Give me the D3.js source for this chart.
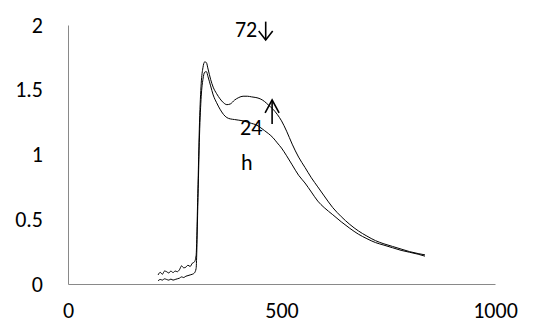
<!DOCTYPE html>
<html>
<head>
<meta charset="utf-8">
<script src="https://cdn.jsdelivr.net/npm/d3@7"></script>
<style>
  html, body { margin: 0; padding: 0; background: #fff; }
  svg text { font-family: Calibri, Carlito, "Open Sans", sans-serif; }
</style>
</head>
<body>
<div id="chart"></div>
<script>
// wavelength grid (nm) shared by both spectra
const wavelengths = [211, 216, 221, 226, 231, 236, 241, 246, 251, 256, 261, 266, 271, 276, 281, 286, 291, 296, 300,
  304, 308, 312, 316, 320, 324, 328, 334, 340, 348, 356, 364, 372, 380, 390, 400, 410, 420, 430, 440, 450,
  460, 470, 480, 490, 500, 512, 525, 540, 555, 570, 585, 600, 620, 640, 660, 680, 700, 720, 740, 760, 780,
  800, 820, 836];

const upperSeries = [0.07, 0.09, 0.075, 0.10, 0.095, 0.085, 0.10, 0.088, 0.10, 0.095, 0.11, 0.14, 0.125, 0.13, 0.145, 0.135, 0.16, 0.17, 0.22,
  0.7, 1.25, 1.55, 1.67, 1.715, 1.71, 1.66, 1.58, 1.52, 1.47, 1.43, 1.40, 1.385, 1.39, 1.42, 1.44, 1.45, 1.45, 1.445, 1.44, 1.43,
  1.41, 1.38, 1.35, 1.31, 1.26, 1.18, 1.08, 0.98, 0.90, 0.82, 0.75, 0.68, 0.59, 0.52, 0.46, 0.41, 0.37, 0.335, 0.31, 0.29, 0.27,
  0.25, 0.235, 0.225];

const lowerSeries = [0.025, 0.035, 0.03, 0.04, 0.035, 0.03, 0.038, 0.03, 0.035, 0.04, 0.045, 0.055, 0.05, 0.06, 0.065, 0.07, 0.075, 0.085, 0.12,
  0.6, 1.15, 1.45, 1.58, 1.635, 1.64, 1.6, 1.53, 1.46, 1.40, 1.35, 1.31, 1.285, 1.275, 1.27, 1.265, 1.26, 1.25, 1.24, 1.23, 1.21,
  1.185, 1.16, 1.13, 1.09, 1.05, 0.99, 0.92, 0.84, 0.78, 0.71, 0.64, 0.59, 0.535, 0.48, 0.43, 0.385, 0.35, 0.32, 0.30, 0.28, 0.26,
  0.245, 0.23, 0.215];

const xTicks = [0, 500, 1000];
const yTicks = [0, 0.5, 1, 1.5, 2];

// annotation texts, placed in data units
const labels = [
  { text: "72", x: 391, y: 1.907 },
  { text: "24", x: 403, y: 1.151 },
  { text: "h", x: 405, y: 0.88 }
];
const arrows = [
  { x: 463, y0: 2.026, y1: 1.884, dir: "down" },
  { x: 478, y0: 1.235, y1: 1.421, dir: "up" }
];

const width = 542, height = 331;
const plot = { left: 68, right: 495, top: 25, bottom: 284 };

const svg = d3.select("#chart").append("svg")
  .attr("width", width)
  .attr("height", height);

const x = d3.scaleLinear().domain([0, 1000]).range([plot.left, plot.right]);
const y = d3.scaleLinear().domain([0, 2]).range([plot.bottom, plot.top]);

// axes
const xAxis = svg.append("g")
  .attr("transform", `translate(0,${plot.bottom})`)
  .call(d3.axisBottom(x).tickValues(xTicks).tickSize(0).tickPadding(18).tickFormat(d3.format("d")));
xAxis.select(".domain").attr("stroke", "#898989");
xAxis.selectAll("text").attr("font-size", 22).attr("fill", "#000");

const yAxis = svg.append("g")
  .attr("transform", `translate(${plot.left},0)`)
  .call(d3.axisLeft(y).tickValues(yTicks).tickSize(0).tickPadding(25).tickFormat(d => String(d)));
yAxis.select(".domain").attr("stroke", "#898989");
yAxis.selectAll("text").attr("font-size", 22).attr("fill", "#000");

// spectra
const line = d3.line()
  .x(d => x(d[0]))
  .y(d => y(d[1]))
  .curve(d3.curveMonotoneX);

[upperSeries, lowerSeries].forEach(series => {
  svg.append("path")
    .datum(wavelengths.map((w, i) => [w, series[i]]))
    .attr("fill", "none")
    .attr("stroke", "#000")
    .attr("stroke-width", 1)
    .attr("d", line);
});

// annotations
svg.selectAll(".ann")
  .data(labels)
  .enter()
  .append("text")
  .attr("class", "ann")
  .attr("x", d => x(d.x))
  .attr("y", d => y(d.y))
  .attr("font-size", 22)
  .attr("fill", "#000")
  .text(d => d.text);

arrows.forEach(a => {
  const xs = x(a.x);
  const tip = y(a.y1);
  const back = a.dir === "down" ? -9 : 13;
  svg.append("line")
    .attr("x1", xs).attr("x2", xs)
    .attr("y1", y(a.y0)).attr("y2", y(a.y1))
    .attr("stroke", "#000").attr("stroke-width", 1.6);
  svg.append("path")
    .attr("d", `M${xs - 7},${tip + back} L${xs},${tip} L${xs + 7},${tip + back}`)
    .attr("fill", "none")
    .attr("stroke", "#000")
    .attr("stroke-width", 1.6);
});
</script>
</body>
</html>
